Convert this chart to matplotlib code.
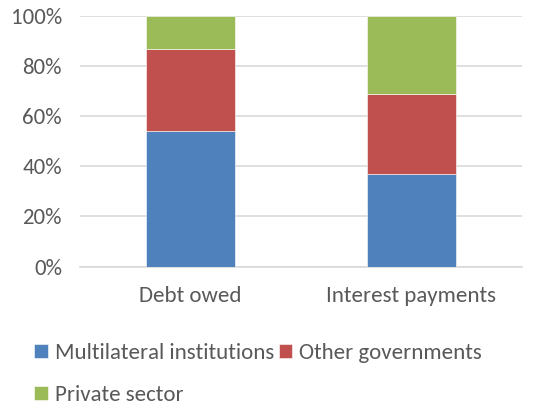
import matplotlib
matplotlib.use("Agg")
from matplotlib import pyplot as plt
import numpy as np

categories = ["Debt owed", "Interest payments"]
series_names = ["Multilateral institutions", "Other governments", "Private sector"]
multilateral = [0.539, 0.368]
other_gov = [0.328, 0.320]
private = [0.133, 0.312]
colors = ["#4F81BD", "#C0504D", "#9BBB59"]
yticks = [0, 0.2, 0.4, 0.6, 0.8, 1.0]
ytick_labels = ["0%", "20%", "40%", "60%", "80%", "100%"]

plt.rcParams['font.family'] = ['Carlito', 'Lato', 'DejaVu Sans']
grey = "#595959"
fs = 16.5

fig = plt.figure(figsize=(5.51, 4.08), dpi=100)
ax = fig.add_axes([80/551, 141.3/408, 442/551, 251/408])

x = np.arange(len(categories))
bottom = np.zeros(len(categories))
handles = []
for name, vals, c in zip(series_names, [multilateral, other_gov, private], colors):
    b = ax.bar(x, vals, width=0.4, bottom=bottom, color=c, edgecolor="white",
               linewidth=0.4, label=name, zorder=3)
    bottom += np.array(vals)
    handles.append(b)

ax.set_xlim(-0.5, 1.5)
ax.set_ylim(0, 1.0)
ax.set_yticks(yticks)
ax.set_yticklabels(ytick_labels)
ax.set_xticks(x)
ax.set_xticklabels(categories)
ax.yaxis.grid(True, color="#d9d9d9", linewidth=1.2, zorder=0)
for s in ["top", "right", "left"]:
    ax.spines[s].set_visible(False)
ax.spines["bottom"].set_color("#d9d9d9")
ax.spines["bottom"].set_linewidth(1.2)
ax.tick_params(axis="both", length=0, colors=grey, labelsize=fs)
ax.tick_params(axis="y", pad=13)
ax.tick_params(axis="x", pad=14)

order = [0, 2, 1]
fig.legend([handles[i] for i in order], [series_names[i] for i in order],
           loc="upper left", bbox_to_anchor=(25/551, 1 - 334/408), ncol=2,
           frameon=False, fontsize=fs, labelcolor=grey,
           handlelength=0.6, handleheight=0.6, handletextpad=0.3,
           columnspacing=0.2, labelspacing=0.95, borderaxespad=0)

fig.savefig("out.png", dpi=100)
